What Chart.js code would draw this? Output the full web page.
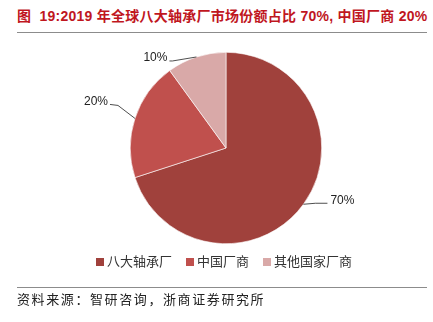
<!DOCTYPE html>
<html>
<head>
<meta charset="utf-8">
<script src="https://cdn.jsdelivr.net/npm/chart.js@4"></script>
<style>
  body { margin: 0; width: 433px; height: 322px; background: #fff; position: relative; overflow: hidden; }
  .title { position: absolute; left: 17px; top: 5px; font: bold 14px "Liberation Sans", "Noto Sans CJK SC", sans-serif; color: #c0161e; white-space: nowrap; letter-spacing: 0.25px; }
  .rule { position: absolute; left: 17px; width: 410px; height: 1px; background: #8c8c8c; }
  #chartBox { position: absolute; left: 0; top: 36px; }
  .legend { position: absolute; top: 251px; left: 96px; font: 13px "Noto Sans CJK SC", sans-serif; color: #333; white-space: nowrap; }
  .legend span.item { display: inline-block; margin-right: 14px; }
  .legend i { display: inline-block; width: 8px; height: 8px; margin-right: 3px; vertical-align: 0px; }
  .source { position: absolute; left: 17px; top: 289px; font: 13px "Noto Sans CJK SC", sans-serif; color: #222; letter-spacing: 1.6px; white-space: nowrap; }
</style>
</head>
<body>
<div class="title">图&nbsp; 19:2019 年全球八大轴承厂市场份额占比 70%, 中国厂商 20%</div>
<div class="rule" style="top:32px"></div>
<div id="chartBox"><canvas id="shareChart" width="433" height="246"></canvas></div>
<div class="legend" id="legend"></div>
<div class="rule" style="top:287px"></div>
<div class="source">资料来源：智研咨询，浙商证券研究所</div>

<script>
// market share of bearing makers, 2019
const makers = ["八大轴承厂", "中国厂商", "其他国家厂商"];
const shares = [70, 20, 10];
const sliceColors = ["#a0413c", "#c0504d", "#d9a9a8"];

// leader line layout per slice: elbow and end offsets from the arc point (px)
const leaderLayout = [
  { elbow: [12, -1], end: [24, -1], side: "right" },
  { elbow: [-17, -13], end: [-25, -14], side: "left" },
  { elbow: [-24, 4], end: [-27, 4], side: "left" },
];

const leaderLabels = {
  id: "leaderLabels",
  afterDatasetsDraw(chart) {
    const ctx = chart.ctx;
    const arcs = chart.getDatasetMeta(0).data;
    ctx.save();
    ctx.strokeStyle = "#222";
    ctx.lineWidth = 0.8;
    ctx.fillStyle = "#222";
    ctx.font = '12px "Liberation Sans", Arial, sans-serif';
    ctx.textBaseline = "middle";
    arcs.forEach((arc, i) => {
      const { x, y, startAngle, endAngle, outerRadius } = arc.getProps(
        ["x", "y", "startAngle", "endAngle", "outerRadius"], true);
      const mid = (startAngle + endAngle) / 2;
      const px = x + Math.cos(mid) * outerRadius;
      const py = y + Math.sin(mid) * outerRadius;
      const lay = leaderLayout[i];
      const ex = px + lay.elbow[0], ey = py + lay.elbow[1];
      const tx = px + lay.end[0], ty = py + lay.end[1];
      ctx.beginPath();
      ctx.moveTo(px, py);
      ctx.lineTo(ex, ey);
      ctx.lineTo(tx, ty);
      ctx.stroke();
      const label = shares[i] + "%";
      if (lay.side === "right") {
        ctx.textAlign = "left";
        ctx.fillText(label, tx + 3, ty - 3);
      } else {
        ctx.textAlign = "right";
        ctx.fillText(label, tx - 2, ty - 3);
      }
    });
    ctx.restore();
  },
};

new Chart(document.getElementById("shareChart"), {
  type: "pie",
  data: {
    labels: makers,
    datasets: [{
      data: shares,
      backgroundColor: sliceColors,
      borderColor: "#ffffff",
      borderWidth: 0.6,
    }],
  },
  options: {
    responsive: false,
    animation: false,
    rotation: 0,
    layout: { padding: { left: 40, right: 21, top: 16, bottom: 38 } },
    plugins: {
      legend: { display: false },
      tooltip: { enabled: false },
    },
  },
  plugins: [leaderLabels],
});

// legend built from the same category and colour lists
document.getElementById("legend").innerHTML = makers
  .map((m, i) => `<span class="item"><i style="background:${sliceColors[i]}"></i>${m}</span>`)
  .join("");
</script>
</body>
</html>
